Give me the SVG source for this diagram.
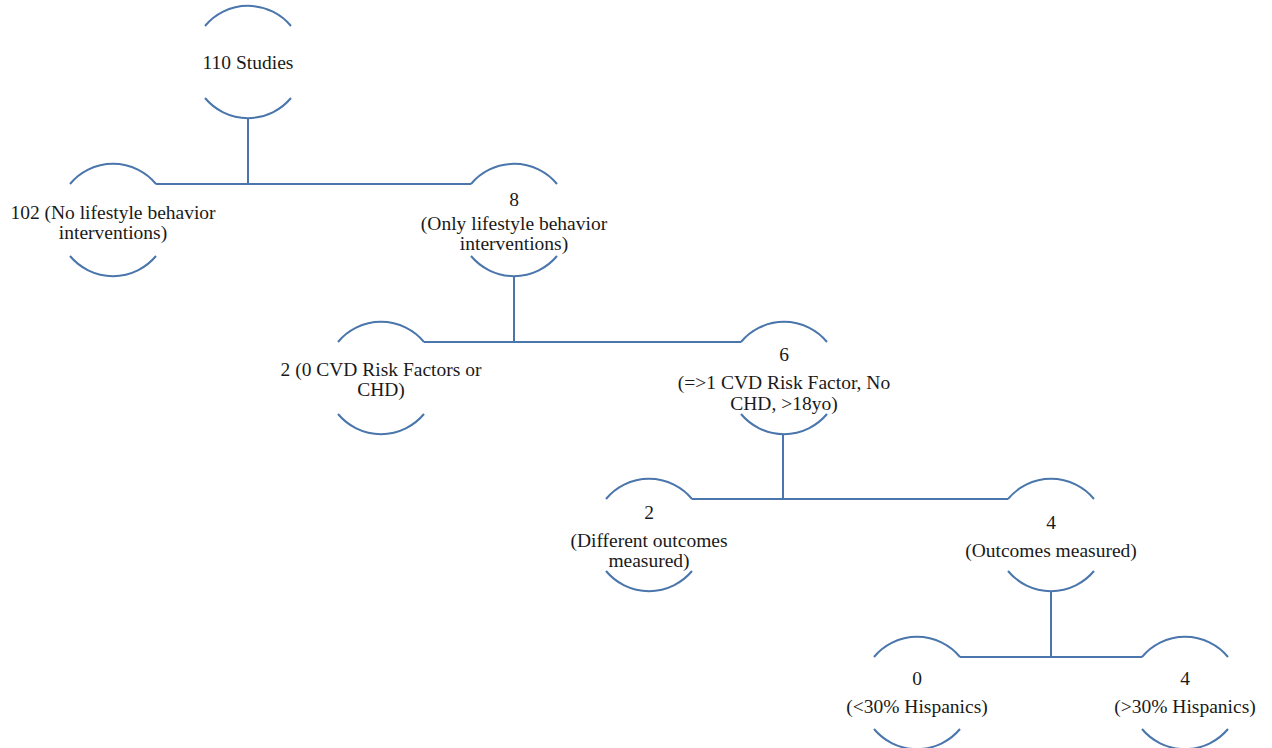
<svg xmlns="http://www.w3.org/2000/svg" width="1272" height="748" viewBox="0 0 1272 748">
<style>
.arc{fill:none;stroke:#4A76AC;stroke-width:2}
.con{fill:none;stroke:#4A76AC;stroke-width:2}
text{font-family:"Liberation Serif","Times New Roman",serif;font-size:19.5px;fill:#1a1a1a;text-anchor:middle}
</style>
<rect width="1272" height="748" fill="#ffffff"/>
<g id="connectors">
<path class="con" d="M248 118 V184 M156 184 H471"/>
<path class="con" d="M514 276 V342 M424 342 H741"/>
<path class="con" d="M783 434 V499 M692 499 H1008"/>
<path class="con" d="M1051 591 V657 M960 657 H1142"/>
</g>
<g id="n110">
<path class="arc" d="M205 26 A56 56 0 0 1 291 26 M205 98 A56 56 0 0 0 291 98"/>
<text x="248" y="69">110 Studies</text>
</g>
<g id="n102">
<path class="arc" d="M70 184 A56 56 0 0 1 156 184 M70 256 A56 56 0 0 0 156 256"/>
<text x="113" y="219">102 (No lifestyle behavior</text>
<text x="113" y="239">interventions)</text>
</g>
<g id="n8">
<path class="arc" d="M471 184 A56 56 0 0 1 557 184 M471 256 A56 56 0 0 0 557 256"/>
<text x="514" y="206">8</text>
<text x="514" y="230">(Only lifestyle behavior</text>
<text x="514" y="250">interventions)</text>
</g>
<g id="n2a">
<path class="arc" d="M338 342 A56 56 0 0 1 424 342 M338 414 A56 56 0 0 0 424 414"/>
<text x="381" y="376">2 (0 CVD Risk Factors or</text>
<text x="381" y="396">CHD)</text>
</g>
<g id="n6">
<path class="arc" d="M741 342 A56 56 0 0 1 827 342 M741 414 A56 56 0 0 0 827 414"/>
<text x="784" y="361">6</text>
<text x="784" y="389">(=&gt;1 CVD Risk Factor, No</text>
<text x="784" y="410">CHD, &gt;18yo)</text>
</g>
<g id="n2b">
<path class="arc" d="M606 499 A56 56 0 0 1 692 499 M606 571 A56 56 0 0 0 692 571"/>
<text x="649" y="519">2</text>
<text x="649" y="547">(Different outcomes</text>
<text x="649" y="567">measured)</text>
</g>
<g id="n4a">
<path class="arc" d="M1008 499 A56 56 0 0 1 1094 499 M1008 571 A56 56 0 0 0 1094 571"/>
<text x="1051" y="529">4</text>
<text x="1051" y="557">(Outcomes measured)</text>
</g>
<g id="n0">
<path class="arc" d="M874 657 A56 56 0 0 1 960 657 M874 729 A56 56 0 0 0 960 729"/>
<text x="917" y="685">0</text>
<text x="917" y="713">(&lt;30% Hispanics)</text>
</g>
<g id="n4b">
<path class="arc" d="M1142 657 A56 56 0 0 1 1228 657 M1142 729 A56 56 0 0 0 1228 729"/>
<text x="1185" y="685">4</text>
<text x="1185" y="713">(&gt;30% Hispanics)</text>
</g>
</svg>
